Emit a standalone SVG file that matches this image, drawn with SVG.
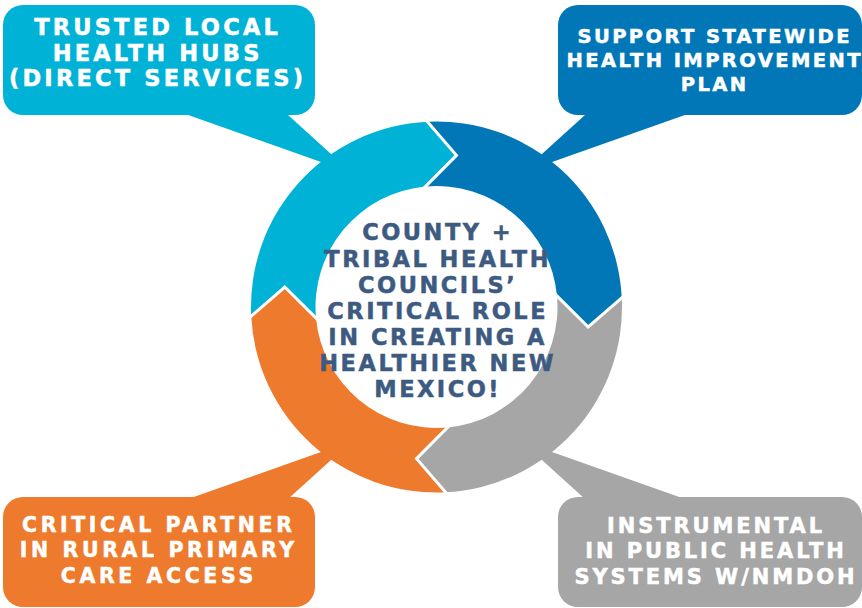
<svg xmlns="http://www.w3.org/2000/svg" width="862" height="608" viewBox="0 0 862 608">
  <style>
    .lbl { font-family: "DejaVu Sans", "Liberation Sans", sans-serif; font-weight: bold; fill: #ffffff; stroke: #ffffff; stroke-width: 0.5px; text-anchor: middle; }
    .ctr { font-family: "DejaVu Sans", "Liberation Sans", sans-serif; font-weight: bold; fill: #3D5A80; stroke: #3D5A80; stroke-width: 0.5px; text-anchor: middle; font-size: 22.5px; letter-spacing: 2.5px; }
    .gap { fill: none; stroke: #ffffff; stroke-width: 3; stroke-linejoin: miter; }
    .cyan { fill: #00B2D6; }
    .blue { fill: #0277B7; }
    .gray { fill: #A6A6A6; }
    .orange { fill: #ED7A2D; }
  </style>
  <defs>
    <path id="seg" d="M 251.22,316.06 A 185.5 185.5 0 0 1 427.44,121.72 L 456.47,155.31 L 425.53,186.50 A 121 121 0 0 0 316.0,317.97 L 284.81,287.03 Z"/>
    <polyline id="chev" points="425.48,119.45 456.47,155.31 423.42,188.63"/>
  </defs>

  <g id="node-trusted-local">
    <polygon class="cyan" points="174,110 282.5,110 352,173"/>
    <rect class="cyan" x="3" y="5" width="312" height="110" rx="20"/>
    <text class="lbl" font-size="22.5" letter-spacing="3.2" x="157.6" y="35">TRUSTED LOCAL</text>
    <text class="lbl" font-size="22.5" letter-spacing="3.2" x="157.6" y="60.7">HEALTH HUBS</text>
    <text class="lbl" font-size="22.5" letter-spacing="3.2" x="157.6" y="86">(DIRECT SERVICES)</text>
  </g>

  <g id="node-statewide">
    <polygon class="blue" points="699,110 590.5,110 521,173"/>
    <rect class="blue" x="558" y="5" width="304" height="110" rx="20"/>
    <text class="lbl" font-size="19.5" letter-spacing="2.4" x="714.7" y="43.3">SUPPORT STATEWIDE</text>
    <text class="lbl" font-size="19.5" letter-spacing="2.4" x="714.7" y="66.7">HEALTH IMPROVEMENT</text>
    <text class="lbl" font-size="19.5" letter-spacing="2.4" x="714.7" y="90.5">PLAN</text>
  </g>

  <g id="node-rural">
    <polygon class="orange" points="174,504 282.5,504 352,441"/>
    <rect class="orange" x="3" y="497" width="312" height="110" rx="20"/>
    <text class="lbl" font-size="20.5" letter-spacing="3.6" x="158.8" y="531.7">CRITICAL PARTNER</text>
    <text class="lbl" font-size="20.5" letter-spacing="3.6" x="158.8" y="557.3">IN RURAL PRIMARY</text>
    <text class="lbl" font-size="20.5" letter-spacing="3.6" x="158.8" y="583">CARE ACCESS</text>
  </g>

  <g id="node-public-health">
    <polygon class="gray" points="699,504 590.5,504 521,441"/>
    <rect class="gray" x="558" y="497" width="304" height="110" rx="20"/>
    <text class="lbl" font-size="21" letter-spacing="2.9" x="716" y="533.3">INSTRUMENTAL</text>
    <text class="lbl" font-size="21" letter-spacing="2.9" x="716" y="558.3">IN PUBLIC HEALTH</text>
    <text class="lbl" font-size="21" letter-spacing="2.9" x="716" y="584">SYSTEMS W/NMDOH</text>
  </g>

  <g id="connectors">
    <use href="#seg" class="cyan"/>
    <use href="#seg" class="blue" transform="rotate(90 436.5 307)"/>
    <use href="#seg" class="gray" transform="rotate(180 436.5 307)"/>
    <use href="#seg" class="orange" transform="rotate(270 436.5 307)"/>
    <use href="#chev" class="gap"/>
    <use href="#chev" class="gap" transform="rotate(90 436.5 307)"/>
    <use href="#chev" class="gap" transform="rotate(180 436.5 307)"/>
    <use href="#chev" class="gap" transform="rotate(270 436.5 307)"/>
  </g>

  <g id="node-center">
    <text class="ctr" x="437.7" y="240">COUNTY +</text>
    <text class="ctr" x="437.7" y="266.5">TRIBAL HEALTH</text>
    <text class="ctr" x="437.7" y="292.5">COUNCILS’</text>
    <text class="ctr" x="437.7" y="318.5">CRITICAL ROLE</text>
    <text class="ctr" x="437.7" y="344.5">IN CREATING A</text>
    <text class="ctr" x="437.7" y="370.5">HEALTHIER NEW</text>
    <text class="ctr" x="437.7" y="396.5">MEXICO!</text>
  </g>
</svg>
